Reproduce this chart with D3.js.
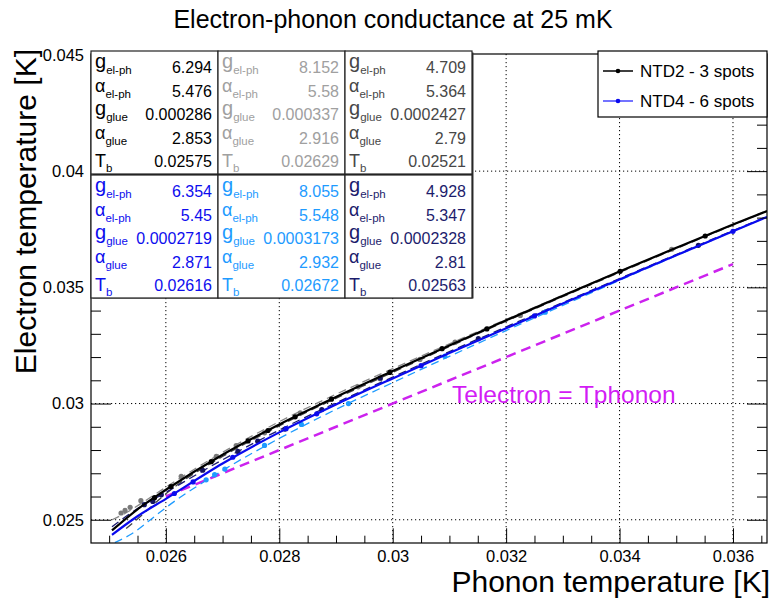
<html>
<head>
<style>
  body { margin: 0; background: #fff; }
  text { font-family: "Liberation Sans", Arial, Helvetica, sans-serif; }
</style>
</head>
<body>
<svg id="chart" width="778" height="603"></svg>
<script src="https://cdn.jsdelivr.net/npm/d3@7"></script>
<script>
// ---- data ----
let xTicks = [0.026, 0.028, 0.03, 0.032, 0.034, 0.036]
let yTicks = [0.025, 0.03, 0.035, 0.04, 0.045]
let xTickLabels = ["0.026", "0.028", "0.03", "0.032", "0.034", "0.036"]
let yTickLabels = ["0.025", "0.03", "0.035", "0.04", "0.045"]

// fit curves
let fitX = [0.02505, 0.0255, 0.026, 0.027, 0.028, 0.029, 0.030, 0.031, 0.032, 0.033, 0.034, 0.035, 0.036, 0.0366]
let ntd2FitY = [0.02454, 0.02545, 0.02629, 0.02780, 0.02910, 0.03028, 0.03140, 0.03250, 0.03358, 0.03464, 0.03568, 0.03670, 0.03770, 0.03828]
let ntd4FitY = [0.02435, 0.02515, 0.02590, 0.02742, 0.02876, 0.02996, 0.03108, 0.03217, 0.03324, 0.03430, 0.03534, 0.03638, 0.03741, 0.03803]

let grayFitX = [0.02505, 0.0253, 0.0256, 0.026, 0.027, 0.028, 0.029, 0.030, 0.031, 0.032, 0.034, 0.036, 0.0366]
let grayFitY = [0.02500, 0.02530, 0.02576, 0.02640, 0.02790, 0.02922, 0.03040, 0.03150, 0.03257, 0.03362, 0.03569, 0.03770, 0.03830]
let darkFitX = [0.0253, 0.0256, 0.026, 0.027, 0.028, 0.030, 0.032, 0.034, 0.036, 0.0366]
let darkFitY = [0.02462, 0.02525, 0.02612, 0.02772, 0.02904, 0.03134, 0.03354, 0.03564, 0.03768, 0.03828]
let navyFitX = [0.02505, 0.0255, 0.026, 0.027, 0.028, 0.030, 0.032, 0.034, 0.036, 0.0366]
let navyFitY = [0.02470, 0.02548, 0.02618, 0.02758, 0.02886, 0.03114, 0.03330, 0.03538, 0.03744, 0.03805]
let lightFitX = [0.0251, 0.0254, 0.0258, 0.026, 0.027, 0.028, 0.029, 0.030, 0.031, 0.032, 0.034, 0.036, 0.0366]
let lightFitY = [0.02402, 0.02440, 0.02514, 0.02552, 0.02712, 0.02850, 0.02975, 0.03090, 0.03203, 0.03314, 0.03530, 0.03741, 0.03803]

// T electron = T phonon
let equalX = [0.026, 0.036]

// measured points
let grayPtsX = [0.02521, 0.02528, 0.02537, 0.02556, 0.02627, 0.02689, 0.02724, 0.02774, 0.02837, 0.02939, 0.02978, 0.03048, 0.0311, 0.03225, 0.03492]
let grayPtsY = [0.02529, 0.0254, 0.02553, 0.02582, 0.02687, 0.02773, 0.02819, 0.02874, 0.0296, 0.03072, 0.03107, 0.0319, 0.03264, 0.03379, 0.03664]
let blackPtsX = [0.0258, 0.02609, 0.0268, 0.02745, 0.0278, 0.02828, 0.02892, 0.02995, 0.03087, 0.03166, 0.03401, 0.03551]
let blackPtsY = [0.02595, 0.02643, 0.0275, 0.02839, 0.02884, 0.02943, 0.03019, 0.03134, 0.03236, 0.03321, 0.03569, 0.03721]
let navyPtsX = [0.02562, 0.02577, 0.02592, 0.02665, 0.02727, 0.02762, 0.0281, 0.02875, 0.02978, 0.03151, 0.03539]
let navyPtsY = [0.02565, 0.02579, 0.02608, 0.02713, 0.02794, 0.02838, 0.0289, 0.02974, 0.0311, 0.03279, 0.03681]
let bluePtsX = [0.02615, 0.02648, 0.02718, 0.02812, 0.02866, 0.0305, 0.0325, 0.036]
let bluePtsY = [0.02613, 0.02663, 0.02769, 0.02892, 0.02956, 0.03163, 0.03377, 0.03741]
let lightPtsX = [0.02671, 0.02686, 0.02704, 0.02774, 0.02839, 0.02922, 0.03092, 0.03269]
let lightPtsY = [0.02672, 0.02694, 0.02718, 0.0282, 0.0291, 0.0300, 0.03204, 0.03393]

// fit results table
let paramNames = [["g", "el-ph"], ["\u03b1", "el-ph"], ["g", "glue"], ["\u03b1", "glue"], ["T", "b"]]
let ntd2Params = [
  ["6.294", "5.476", "0.000286", "2.853", "0.02575"],
  ["8.152", "5.58", "0.000337", "2.916", "0.02629"],
  ["4.709", "5.364", "0.0002427", "2.79", "0.02521"]
]
let ntd4Params = [
  ["6.354", "5.45", "0.0002719", "2.871", "0.02616"],
  ["8.055", "5.548", "0.0003173", "2.932", "0.02672"],
  ["4.928", "5.347", "0.0002328", "2.81", "0.02563"]
]
let legendLabels = ["NTD2 - 3 spots", "NTD4 - 6 spots"]

// ---- drawing ----
let svg = d3.select("#chart")
let fLeft = 91, fRight = 767, fTop = 54, fBottom = 543

let x = d3.scaleLinear().domain([0.02468, 0.0366]).range([fLeft, fRight])
let y = d3.scaleLinear().domain([0.024, 0.04504]).range([fBottom, fTop])

let minorX = d3.range(0.025, 0.03661, 0.0005).filter(v => !xTicks.some(t => Math.abs(t - v) < 1e-7))
let minorY = d3.range(0.025, 0.0451, 0.001).filter(v => !yTicks.some(t => Math.abs(t - v) < 1e-7))

// grid
let grid = svg.append("g").attr("stroke", "#000").attr("stroke-width", 1).attr("stroke-dasharray", "1.2,2.8")
grid.selectAll(".gx").data(xTicks).enter().append("line")
  .attr("x1", d => x(d)).attr("x2", d => x(d)).attr("y1", fTop).attr("y2", fBottom)
grid.selectAll(".gy").data(yTicks.filter(d => d < 0.045)).enter().append("line")
  .attr("x1", fLeft).attr("x2", fRight).attr("y1", d => y(d)).attr("y2", d => y(d))

// curves
let plot = svg.append("g")
let line = d3.line().x(d => x(d[0])).y(d => y(d[1])).curve(d3.curveMonotoneX)
let zip = (a, b) => a.map((v, i) => [v, b[i]])

plot.append("clipPath").attr("id", "clip").append("rect")
  .attr("x", fLeft).attr("y", fTop).attr("width", fRight - fLeft).attr("height", fBottom - fTop)
let curves = plot.append("g").attr("clip-path", "url(#clip)")

curves.append("path").datum(zip(equalX, equalX)).attr("d", line)
  .attr("fill", "none").attr("stroke", "#cc22ee").attr("stroke-width", 2.5).attr("stroke-dasharray", "10,6")

let dashed = [
  [grayFitX, grayFitY, "#888888"],
  [darkFitX, darkFitY, "#444444"],
  [lightFitX, lightFitY, "#1e9bff"],
  [navyFitX, navyFitY, "#1a1a70"]
]
dashed.forEach(([xs, ys, c]) => {
  curves.append("path").datum(zip(xs, ys)).attr("d", line)
    .attr("fill", "none").attr("stroke", c).attr("stroke-width", 1.3).attr("stroke-dasharray", "8,5")
})

let pts = [
  [grayPtsX, grayPtsY, "#7a7a7a"],
  [lightPtsX, lightPtsY, "#1e9bff"],
  [navyPtsX, navyPtsY, "#14145e"],
  [bluePtsX, bluePtsY, "#1010ee"],
  [blackPtsX, blackPtsY, "#000000"]
]
pts.forEach(([xs, ys, c]) => {
  curves.append("g").selectAll("circle").data(zip(xs, ys)).enter().append("circle")
    .attr("cx", d => x(d[0])).attr("cy", d => y(d[1])).attr("r", 2.6).attr("fill", c)
})

curves.append("path").datum(zip(fitX, ntd4FitY)).attr("d", line)
  .attr("fill", "none").attr("stroke", "#0a0aee").attr("stroke-width", 2.2)
curves.append("path").datum(zip(fitX, ntd2FitY)).attr("d", line)
  .attr("fill", "none").attr("stroke", "#000").attr("stroke-width", 2.2)

svg.append("text").attr("x", 452).attr("y", 403).attr("font-size", 24.5).attr("fill", "#d21cf5")
  .text("Telectron = Tphonon")

// axes
let fmtX = d => xTickLabels[xTicks.findIndex(t => Math.abs(t - d) < 1e-7)]
let fmtY = d => yTickLabels[yTicks.findIndex(t => Math.abs(t - d) < 1e-7)]

svg.append("g").attr("transform", `translate(0,${fBottom})`)
  .call(d3.axisBottom(x).tickValues(xTicks).tickSize(-14.7).tickSizeOuter(0).tickPadding(7).tickFormat(fmtX))
svg.append("g").attr("transform", `translate(0,${fBottom})`)
  .call(d3.axisBottom(x).tickValues(minorX).tickSize(-7.3).tickSizeOuter(0).tickFormat(""))
svg.append("g").attr("transform", `translate(${fLeft},0)`)
  .call(d3.axisLeft(y).tickValues(yTicks).tickSize(-20).tickSizeOuter(0).tickPadding(7).tickFormat(fmtY))
svg.append("g").attr("transform", `translate(${fLeft},0)`)
  .call(d3.axisLeft(y).tickValues(minorY).tickSize(-10).tickSizeOuter(0).tickFormat(""))
svg.append("g").attr("transform", `translate(${fRight},0)`)
  .call(d3.axisRight(y).tickValues(yTicks).tickSize(-20).tickSizeOuter(0).tickFormat(""))
svg.append("g").attr("transform", `translate(${fRight},0)`)
  .call(d3.axisRight(y).tickValues(minorY).tickSize(-10).tickSizeOuter(0).tickFormat(""))
svg.selectAll(".domain").remove()
svg.selectAll(".tick text").attr("font-size", 16.5).attr("fill", "#000")
  .attr("font-family", "Liberation Sans, Arial, sans-serif")
svg.selectAll(".tick line").attr("stroke", "#000")

svg.append("rect").attr("x", fLeft).attr("y", fTop).attr("width", fRight - fLeft).attr("height", fBottom - fTop)
  .attr("fill", "none").attr("stroke", "#000").attr("stroke-width", 1.2)

// parameter table
let colW = 127, tabLeft = 91, blockTops = [51, 175], blockH = 123
let blockColors = [["#000000", "#a0a0a0", "#474747"], ["#0d0dee", "#1e9bff", "#1c1c6c"]]
let blocks = [ntd2Params, ntd4Params]
let tab = svg.append("g")
tab.append("rect").attr("x", tabLeft + 1.5).attr("y", blockTops[0] + 1.5).attr("width", colW * 3).attr("height", blockH * 2)
  .attr("fill", "#333")
blocks.forEach((block, b) => {
  block.forEach((col, c) => {
    let x0 = tabLeft + c * colW, y0 = blockTops[b]
    tab.append("rect").attr("x", x0).attr("y", y0).attr("width", colW).attr("height", blockH)
      .attr("fill", "#fff").attr("stroke", "#222").attr("stroke-width", 1.2)
    let color = blockColors[b][c]
    col.forEach((val, r) => {
      let base = y0 + 22 + 23.5 * r
      let name = paramNames[r]
      let lab = tab.append("text").attr("x", x0 + 4).attr("y", base).attr("fill", color)
      lab.append("tspan").attr("font-size", name[0] == "g" ? 20 : 18)
        .attr("dy", name[0] == "T" ? 0 : -5).text(name[0])
      lab.append("tspan").attr("font-size", 11.5).attr("dy", name[0] == "T" ? 5 : 6).text(name[1])
      tab.append("text").attr("x", x0 + colW - 6).attr("y", base).attr("text-anchor", "end")
        .attr("font-size", 16).attr("fill", color).text(val)
    })
  })
})

// legend
let leg = svg.append("g")
leg.append("rect").attr("x", 598).attr("y", 51).attr("width", 169).attr("height", 66)
  .attr("fill", "#fff").attr("stroke", "#000").attr("stroke-width", 1.2)
let legColors = ["#000000", "#4444ff"]
legendLabels.forEach((t, i) => {
  let cy = 71 + 30 * i
  leg.append("line").attr("x1", 603).attr("x2", 633).attr("y1", cy).attr("y2", cy)
    .attr("stroke", legColors[i]).attr("stroke-width", 1.5)
  leg.append("circle").attr("cx", 618).attr("cy", cy).attr("r", 2.3).attr("fill", i ? "#0a0aee" : "#000")
  leg.append("text").attr("x", 640).attr("y", cy + 6).attr("font-size", 17).text(t)
})

// titles
svg.append("text").attr("x", 393).attr("y", 28).attr("text-anchor", "middle").attr("font-size", 25)
  .text("Electron-phonon conductance at 25 mK")
svg.append("text").attr("x", 770).attr("y", 592).attr("text-anchor", "end").attr("font-size", 30)
  .text("Phonon temperature [K]")
svg.append("text").attr("transform", "translate(36,49) rotate(-90)").attr("text-anchor", "end")
  .attr("font-size", 30).text("Electron temperature [K]")
</script>
</body>
</html>
